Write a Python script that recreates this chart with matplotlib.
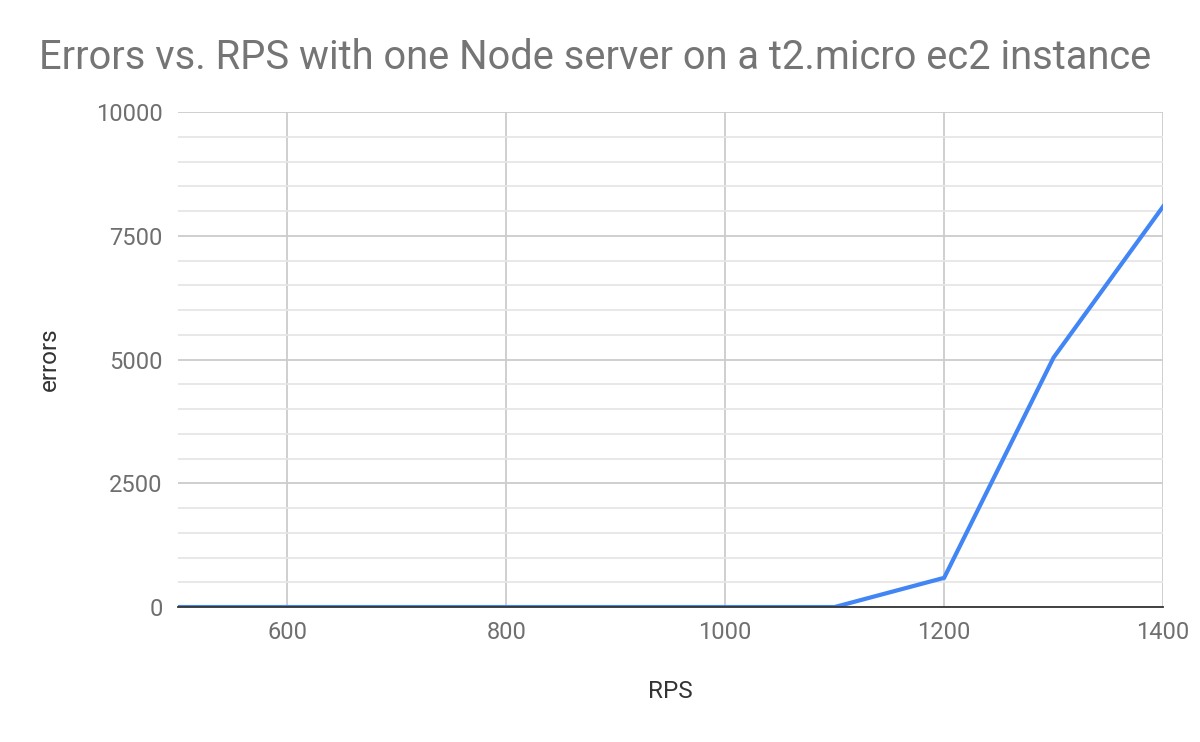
import matplotlib
matplotlib.use('Agg')
import matplotlib.pyplot as plt
from matplotlib.ticker import MultipleLocator

plt.rcParams['font.family'] = ['Roboto', 'DejaVu Sans']

rps = [500, 600, 700, 800, 900, 1000, 1100, 1200, 1300, 1400]
errors = [0, 0, 0, 0, 0, 0, 0, 590, 5040, 8090]

fig = plt.figure(figsize=(12, 7.42), dpi=100)
ax = fig.add_axes([0.1483, 0.1819, 0.8209, 0.6671])

ax.plot(rps, errors, color='#4285f4', linewidth=3, solid_joinstyle='miter', zorder=3)

ax.set_xlim(500, 1400)
ax.set_ylim(0, 10000)
ax.xaxis.set_major_locator(MultipleLocator(200))
ax.yaxis.set_major_locator(MultipleLocator(2500))
ax.yaxis.set_minor_locator(MultipleLocator(500))

ax.grid(which='major', color='#cccccc', linewidth=1.3)
ax.grid(which='minor', axis='y', color='#e6e6e6', linewidth=1.3)
ax.set_axisbelow(True)

for s in ['top', 'right', 'left']:
    ax.spines[s].set_visible(False)
ax.spines['bottom'].set_color('#333333')
ax.spines['bottom'].set_linewidth(1.3)
ax.spines['bottom'].set_zorder(4)

ax.tick_params(which='both', length=0, labelsize=17, labelcolor='#6f6f6f')
ax.tick_params(axis='x', pad=10)
ax.tick_params(axis='y', pad=11)

ax.set_xlabel('RPS', fontsize=17.5, color='#333333', labelpad=26)
ax.set_ylabel('errors', fontsize=17.5, color='#333333', labelpad=25)

fig.text(0.4958, 0.922, 'Errors vs. RPS with one Node server on a t2.micro ec2 instance',
         ha='center', va='center', fontsize=28.7, color='#757575')

fig.savefig('out.png', dpi=100)
